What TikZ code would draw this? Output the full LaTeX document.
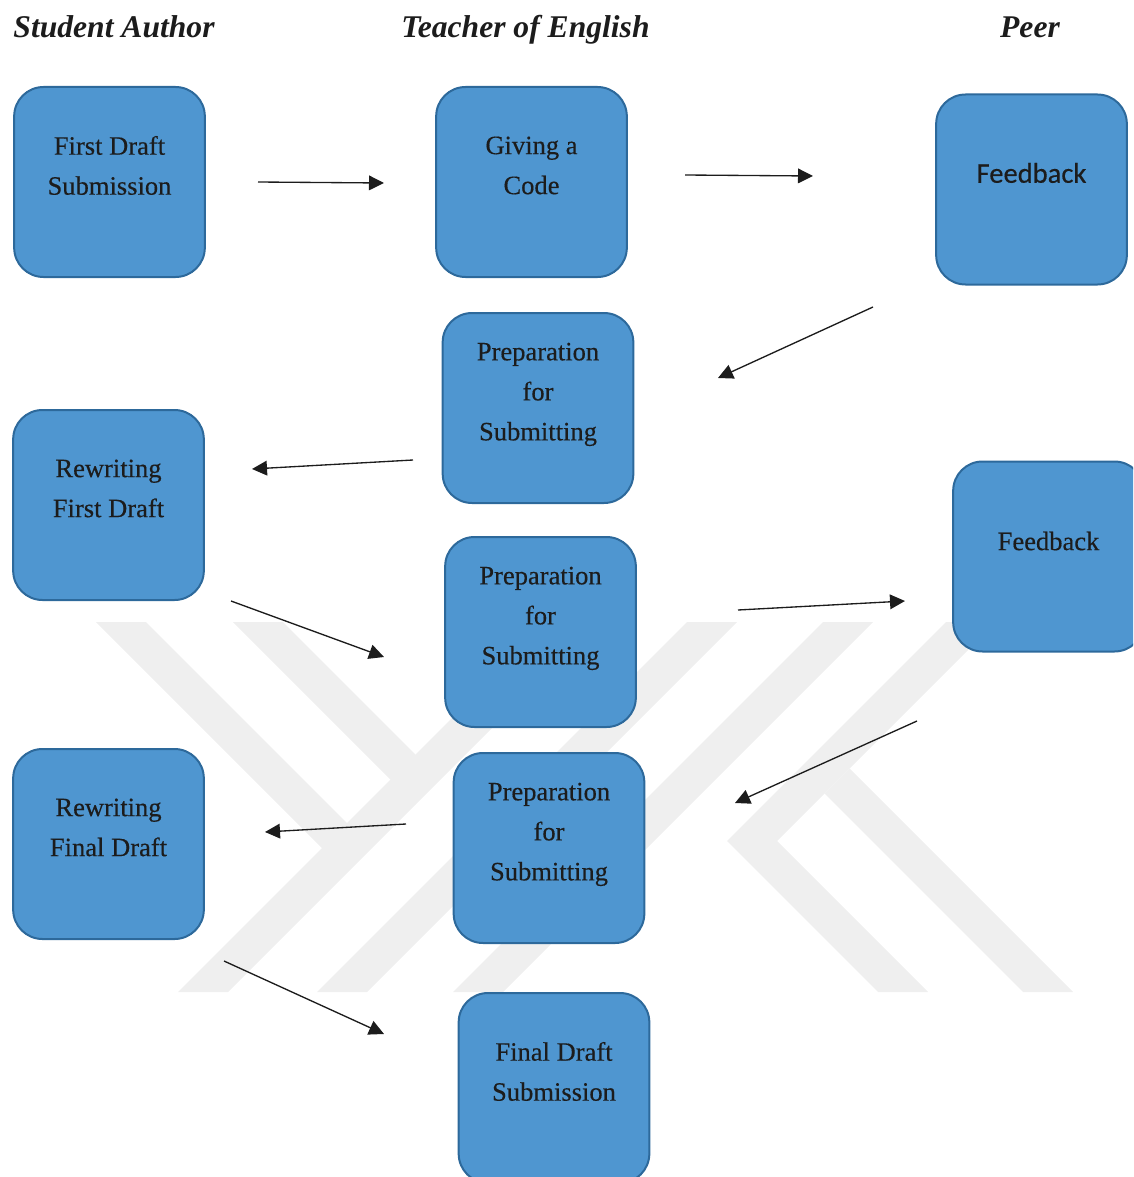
\documentclass[tikz,border=0pt]{standalone}
\usepackage{fontspec}
\setmainfont{Liberation Serif}
\newfontfamily\boxfont{Liberation Serif}[FakeBold=0.35]
\newfontfamily\calfont{Carlito}[FakeBold=0.35]
\usetikzlibrary{arrows.meta}
\definecolor{boxfill}{RGB}{79,150,208}
\definecolor{boxline}{RGB}{45,105,155}
\definecolor{wm}{RGB}{239,239,239}
\definecolor{ink}{RGB}{28,28,28}
\begin{document}
\begin{tikzpicture}[x=0.75pt,y=-0.75pt,
  stagebox/.style={draw=boxline, fill=boxfill, line width=1.5pt, rounded corners=22pt,
    minimum width=143pt, minimum height=142.5pt, inner sep=0pt},
  stagetext/.style={text=ink, align=center, font=\boxfont\fontsize{19.9}{30}\selectfont, inner sep=0pt},
  head/.style={text=ink, font=\fontsize{23.7}{28}\selectfont\bfseries\itshape, inner sep=0pt, anchor=base},
  flow/.style={draw=ink, line width=1pt, -{Triangle[length=11.25pt,width=11pt]}},
]
\useasboundingbox (0,0) rectangle (1133,1177);
\clip (0,0) rectangle (1133,1177);

% faint watermark
\fill[wm] (96,622) -- (146,622) -- (372,848) -- (322,848) -- cycle;
\fill[wm] (548,622) -- (598,622) -- (228,992) -- (178,992) -- cycle;
\fill[wm] (233,622) -- (283,622) -- (415.5,754.5) -- (415.5,804.5) -- cycle;
\fill[wm] (687,622) -- (737,622) -- (367,992) -- (317,992) -- cycle;
\fill[wm] (823,622) -- (873,622) -- (503,992) -- (453,992) -- cycle;
\fill[wm] (946,622) -- (996,622) -- (777,841) -- (727,841) -- cycle;
\fill[wm] (727,841) -- (777,841) -- (928,992) -- (878,992) -- cycle;
\fill[wm] (824.5,793.5) -- (849.5,768.5) -- (1073,992) -- (1023,992) -- cycle;

% column headings
\node[head] (hs) at (114,38) {Student Author};
\node[head] (ht) at (525.5,38) {Teacher of English};
\node[head] (hp) at (1030,38) {Peer};

% boxes
\node[stagebox] (fds) at (109.5,182) {};
\node[stagetext] (fdsT) at ([yshift=12.4pt]fds.center) {First Draft\\Submission};

\node[stagebox] (code) at (531.5,182) {};
\node[stagetext] (codeT) at ([yshift=12.4pt]code.center) {Giving a\\Code};

\node[stagebox] (fb1) at (1031.5,189.5) {};
\node[stagetext, font=\calfont\fontsize{21.4}{26}\selectfont] (fb1T) at ([yshift=12.4pt]fb1.center) {Feedback};

\node[stagebox] (prep1) at (538,408) {};
\node[stagetext] (prep1T) at ([yshift=10.2pt]prep1.center) {Preparation\\for\\Submitting};

\node[stagebox] (rfd) at (108.5,505) {};
\node[stagetext] (rfdT) at ([yshift=12.4pt]rfd.center) {Rewriting\\First Draft};

\node[stagebox] (prep2) at (540.5,632) {};
\node[stagetext] (prep2T) at ([yshift=10.2pt]prep2.center) {Preparation\\for\\Submitting};

\node[stagebox] (fb2) at (1048.5,556.5) {};
\node[stagetext] (fb2T) at ([yshift=11.6pt]fb2.center) {Feedback};

\node[stagebox] (rfin) at (108.5,844) {};
\node[stagetext] (rfinT) at ([yshift=12.4pt]rfin.center) {Rewriting\\Final Draft};

\node[stagebox] (prep3) at (549,848) {};
\node[stagetext] (prep3T) at ([yshift=10.2pt]prep3.center) {Preparation\\for\\Submitting};

\node[stagebox] (fin) at (554,1088) {};
\node[stagetext] (finT) at ([yshift=12.4pt]fin.center) {Final Draft\\Submission};

% arrow end points (arrows float between the boxes)
\coordinate (a1s) at (258,182);  \coordinate (a1e) at (384,183);
\coordinate (a2s) at (685,175);  \coordinate (a2e) at (813,176);
\coordinate (a3s) at (873,307);  \coordinate (a3e) at (718,378);
\coordinate (a4s) at (413,460);  \coordinate (a4e) at (252,469);
\coordinate (a5s) at (231,601);  \coordinate (a5e) at (384,657);
\coordinate (a6s) at (738,610);  \coordinate (a6e) at (905,601);
\coordinate (a7s) at (917,721);  \coordinate (a7e) at (735,803);
\coordinate (a8s) at (406,824);  \coordinate (a8e) at (265,832);
\coordinate (a9s) at (224,961);  \coordinate (a9e) at (384,1034);

\draw[flow] (a1s) -- (a1e);
\draw[flow] (a2s) -- (a2e);
\draw[flow] (a3s) -- (a3e);
\draw[flow] (a4s) -- (a4e);
\draw[flow] (a5s) -- (a5e);
\draw[flow] (a6s) -- (a6e);
\draw[flow] (a7s) -- (a7e);
\draw[flow] (a8s) -- (a8e);
\draw[flow] (a9s) -- (a9e);
\end{tikzpicture}
\end{document}
